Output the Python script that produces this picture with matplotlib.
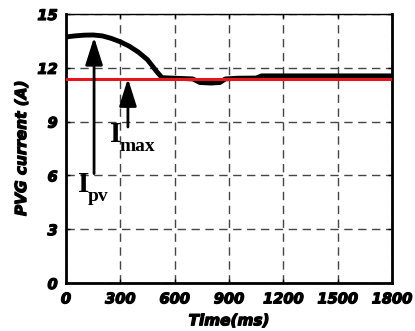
import numpy as np
import matplotlib
matplotlib.use('Agg')
import matplotlib.pyplot as plt
import matplotlib.patheffects as pe

# PVG current
time_ms = [0, 50, 100, 150, 200, 250, 300, 350, 400, 450, 500, 530, 600, 700,
           740, 800, 850, 880, 950, 1050, 1080, 1200, 1500, 1800]
i_pv = [13.72, 13.78, 13.82, 13.83, 13.78, 13.64, 13.45, 13.2, 12.87, 12.45, 11.8, 11.45,
        11.42, 11.38, 11.18, 11.15, 11.18, 11.38, 11.42, 11.43, 11.55, 11.55, 11.55, 11.55]
i_max = 11.35

xticks = [0, 300, 600, 900, 1200, 1500, 1800]
yticks = [0, 3, 6, 9, 12, 15]

fig = plt.figure(figsize=(4.15, 3.31), dpi=100)
ax = fig.add_axes([0.159, 0.145, 0.7856, 0.8127])

ax.plot(time_ms, i_pv, color='black', lw=3.5, solid_capstyle='butt', zorder=3)
ax.axhline(i_max, color='#e8141b', lw=2.2, zorder=4)

ax.set_xlim(0, 1800)
ax.set_ylim(0, 15)
ax.set_xticks(xticks)
ax.set_yticks(yticks)
ax.grid(True, color='#444444', ls=(0, (6, 4)), lw=1)

heavy = [pe.withStroke(linewidth=0.9, foreground='black')]
tick_font = dict(family='DejaVu Sans', weight='bold', style='italic', size=10.5)
label_font = dict(family='DejaVu Sans', weight='bold', style='italic', size=11)
ax.set_xticklabels([str(v) for v in xticks], fontdict=tick_font, path_effects=heavy)
ax.set_yticklabels([str(v) for v in yticks], fontdict=tick_font, path_effects=heavy)
ax.tick_params(direction='in', length=3, width=1, pad=6, right=True, top=True)
ax.set_xlabel('Time(ms)', fontdict=label_font, labelpad=5, path_effects=heavy)
ax.set_ylabel('PVG current (A)', fontdict=label_font, labelpad=6, path_effects=heavy)

for s in ['left', 'bottom', 'right']:
    ax.spines[s].set_linewidth(2)
ax.spines['top'].set_linewidth(1)

arrow = dict(arrowstyle='-|>,head_length=1.2,head_width=0.38', color='black',
             lw=2, mutation_scale=14, shrinkA=0, shrinkB=0)
ax.annotate('', xy=(155, 13.7), xytext=(155, 6.1), arrowprops=arrow, zorder=5)
ax.annotate('', xy=(342, 11.4), xytext=(342, 8.7), arrowprops=arrow, zorder=5)

serif = dict(family='Liberation Serif', weight='bold', va='baseline', ha='left')
ax.text(66, 5.07, 'I', fontsize=21, **serif)
ax.text(121, 4.57, 'pv', fontsize=14, **serif)
ax.text(243, 7.86, 'I', fontsize=21, **serif)
ax.text(298, 7.36, 'max', fontsize=14, **serif)

fig.savefig('out.png', dpi=100)
